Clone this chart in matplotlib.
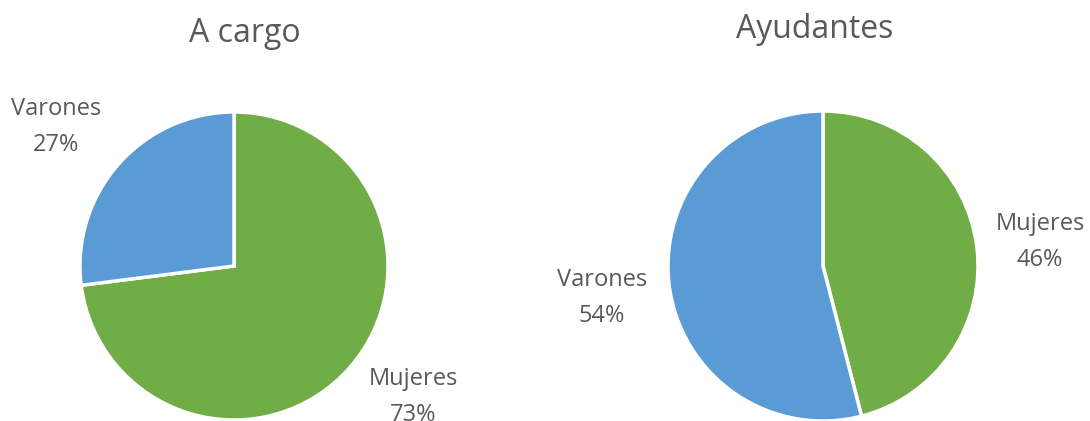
import matplotlib
matplotlib.use("Agg")
import matplotlib.pyplot as plt

categories = ["Mujeres", "Varones"]
a_cargo = [73, 27]
ayudantes = [46, 54]
titles = ["A cargo", "Ayudantes"]

colors = ["#70AD47", "#5B9BD5"]
txt = "#595959"
W, H = 1090, 421

fig = plt.figure(figsize=(W / 100, H / 100), dpi=100)
ax = fig.add_axes([0, 0, 1, 1])
ax.set_xlim(0, W)
ax.set_ylim(0, H)
ax.set_aspect("equal")
ax.axis("off")

fam = ["Open Sans", "DejaVu Sans"]

specs = [
    (a_cargo, (234, H - 266), 154, (245, H - 33),
     {"Varones": (56, H - 127), "Mujeres": (413, H - 397)}),
    (ayudantes, (823, H - 266), 155, (815, H - 30),
     {"Mujeres": (1040, H - 242), "Varones": (602, H - 298)}),
]

for (vals, c, r, tpos, lpos), title in zip(specs, titles):
    ax.pie(vals, colors=colors, startangle=90, counterclock=False,
           center=c, radius=r,
           wedgeprops=dict(edgecolor="white", linewidth=2.5))
    ax.text(tpos[0], tpos[1], title, ha="center", va="center",
            fontsize=23, color=txt, family=fam)
    for cat, v in zip(categories, vals):
        x, y = lpos[cat]
        ax.text(x, y, f"{cat}\n{v}%", ha="center", va="center",
                fontsize=17, color=txt, family=fam, linespacing=1.62)

ax.set_xlim(0, W)
ax.set_ylim(0, H)
fig.savefig("out.png", dpi=100)
